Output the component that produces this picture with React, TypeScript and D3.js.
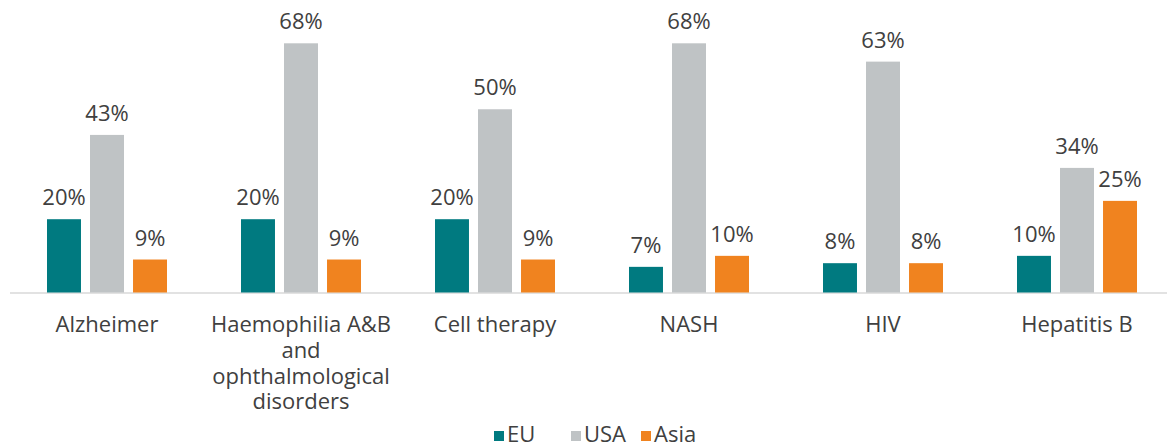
import React, { useEffect, useRef } from 'react';
import * as d3 from 'd3';

const categories = [
  'Alzheimer',
  'Haemophilia A&B and ophthalmological disorders',
  'Cell therapy',
  'NASH',
  'HIV',
  'Hepatitis B',
];
const seriesNames = ['EU', 'USA', 'Asia'];
const euValues = [20, 20, 20, 7, 8, 10];
const usaValues = [43, 68, 50, 68, 63, 34];
const asiaValues = [9, 9, 9, 10, 8, 25];
const colors = ['#007a80', '#bfc3c5', '#f0831f'];

const width = 1167;
const height = 448;
const FONT = '"Open Sans", sans-serif';
const TEXT = '#404040';
const FS = 22;

export default function App() {
  const ref = useRef<SVGSVGElement>(null);

  useEffect(() => {
    const svg = d3.select(ref.current);
    svg.selectAll('*').remove();

    const values = [euValues, usaValues, asiaValues];
    const baseline = 292.5;

    const x = d3.scaleBand().domain(categories).range([10, 1174]);
    const inner = d3
      .scaleBand()
      .domain(seriesNames)
      .range([37, 157])
      .paddingInner(0.21);
    const y = d3.scaleLinear().domain([0, 68]).range([baseline, 43.3]);

    // axis line
    svg
      .append('line')
      .attr('x1', 10)
      .attr('x2', width)
      .attr('y1', baseline + 0.5)
      .attr('y2', baseline + 0.5)
      .attr('stroke', '#d9d9d9')
      .attr('stroke-width', 1.5);

    seriesNames.forEach((s, si) => {
      const g = svg.append('g');
      g.selectAll('rect')
        .data(values[si])
        .join('rect')
        .attr('x', (d, i) => x(categories[i])! + inner(s)!)
        .attr('y', (d) => y(d))
        .attr('width', inner.bandwidth())
        .attr('height', (d) => baseline - y(d))
        .attr('fill', colors[si]);
      g.selectAll('text')
        .data(values[si])
        .join('text')
        .attr('x', (d, i) => x(categories[i])! + inner(s)! + inner.bandwidth() / 2)
        .attr('y', (d) => y(d) - 14)
        .attr('text-anchor', 'middle')
        .attr('font-family', FONT)
        .attr('font-size', FS)
        .attr('fill', TEXT)
        .text((d) => `${d}%`);
    });

    // category labels with wrapping
    const labels = svg
      .append('g')
      .selectAll('text')
      .data(categories)
      .join('text')
      .attr('x', (d) => x(d)! + x.bandwidth() / 2)
      .attr('y', 332)
      .attr('text-anchor', 'middle')
      .attr('font-family', FONT)
      .attr('font-size', FS)
      .attr('fill', TEXT);

    labels.each(function (d) {
      const t = d3.select(this);
      const words = d.split(' ');
      const cx = t.attr('x');
      let line: string[] = [];
      let tspan = t.append('tspan').attr('x', cx).attr('dy', 0);
      for (const w of words) {
        line.push(w);
        tspan.text(line.join(' '));
        if ((tspan.node() as SVGTSpanElement).getComputedTextLength() > 190 && line.length > 1) {
          line.pop();
          tspan.text(line.join(' '));
          line = [w];
          tspan = t.append('tspan').attr('x', cx).attr('dy', 25.8).text(w);
        }
      }
    });

    // legend
    const legendX = [494, 571, 641];
    const legend = svg
      .append('g')
      .selectAll('g')
      .data(seriesNames)
      .join('g')
      .attr('transform', (d, i) => `translate(${legendX[i]},431)`);
    legend
      .append('rect')
      .attr('width', 10)
      .attr('height', 10)
      .attr('fill', (d, i) => colors[i]);
    legend
      .append('text')
      .attr('x', 13)
      .attr('y', 10.5)
      .attr('font-family', FONT)
      .attr('font-size', FS)
      .attr('fill', TEXT)
      .text((d) => d);
  }, []);

  return (
    <svg
      ref={ref}
      width={width}
      height={height}
      style={{ position: 'absolute', left: 0, top: 0, background: '#fff' }}
    />
  );
}
